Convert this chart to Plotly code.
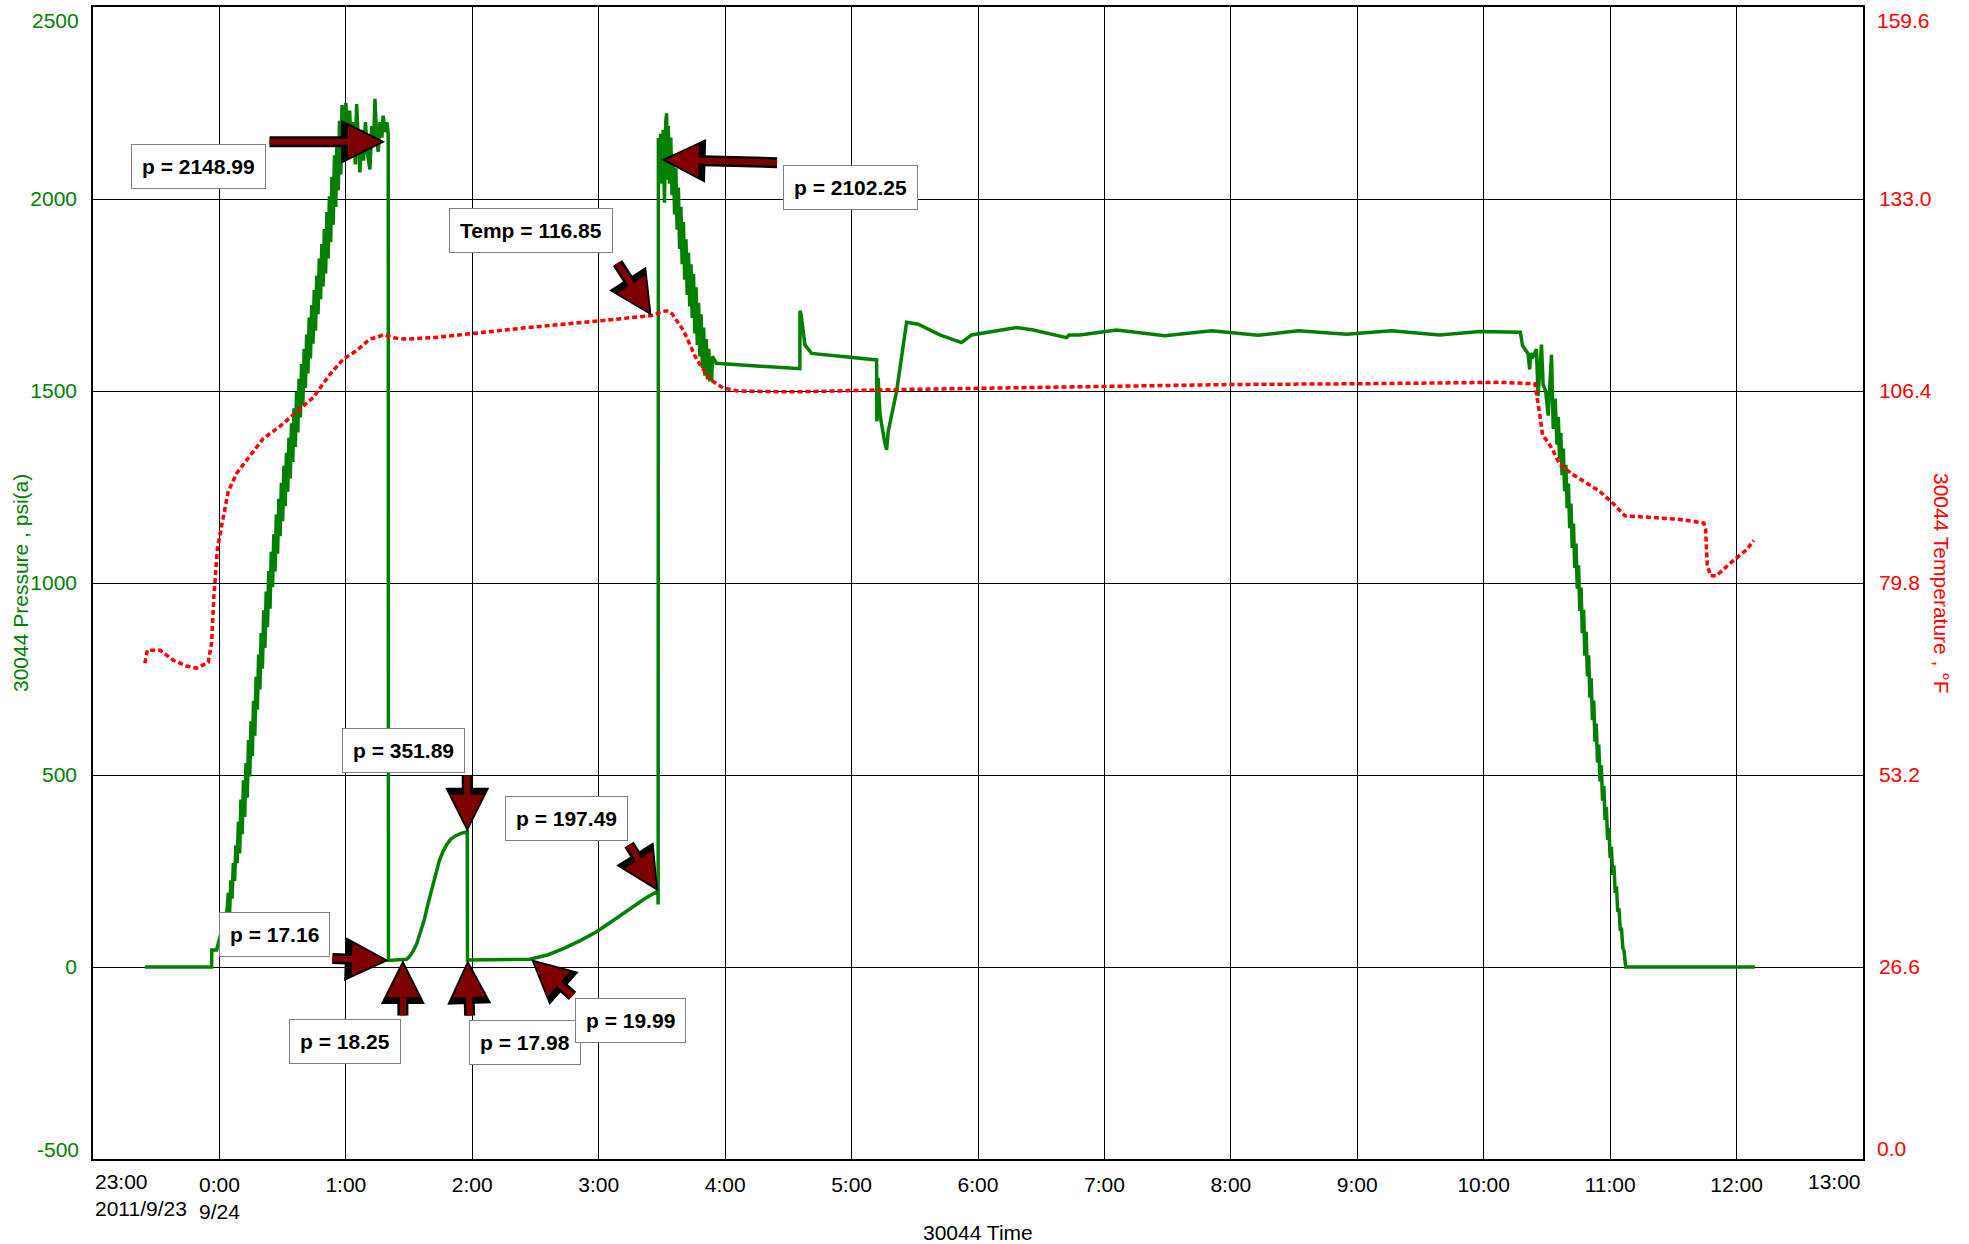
import pandas as pd
import plotly.graph_objects as go

BASE = pd.Timestamp("2011-09-23 23:00")

# ---- Pressure series (hours after 2011-09-23 23:00, psi(a)) ----
p_hours = [
    0.41, 0.938, 0.940, 0.977, 0.99, 1.02, 1.057,
    # first pressure-up (noisy ramp)
    1.06, 1.07, 1.08, 1.09, 1.10, 1.11, 1.12, 1.13, 1.14, 1.15, 1.16, 1.17, 1.18,
    1.19, 1.20, 1.21, 1.22, 1.23, 1.24, 1.25, 1.26, 1.27, 1.28, 1.29, 1.30, 1.31,
    1.32, 1.33, 1.34, 1.35, 1.36, 1.37, 1.38, 1.39, 1.40, 1.41, 1.42, 1.43, 1.44,
    1.45, 1.46, 1.47, 1.48, 1.49, 1.50, 1.51, 1.52, 1.53, 1.54, 1.55, 1.56, 1.57,
    1.58, 1.59, 1.60, 1.61, 1.62, 1.63, 1.64, 1.65, 1.66, 1.67, 1.68, 1.69, 1.70,
    1.71, 1.72, 1.73, 1.74, 1.75, 1.76, 1.77, 1.78, 1.79, 1.80, 1.81, 1.82, 1.83,
    1.84, 1.85, 1.86, 1.87, 1.88, 1.89, 1.90, 1.91, 1.92, 1.93, 1.94, 1.95, 1.96,
    1.97, 1.98,
    # plateau
    2.00, 2.015, 2.03, 2.045, 2.06, 2.075, 2.085, 2.10, 2.111, 2.125, 2.14, 2.155,
    2.17, 2.19, 2.205, 2.22, 2.23, 2.245, 2.256, 2.27, 2.285, 2.295, 2.31, 2.325, 2.335,
    # bleed-off and build-ups
    2.337, 2.454, 2.48, 2.50, 2.53, 2.56, 2.59, 2.62, 2.65, 2.68, 2.71, 2.74, 2.77,
    2.80, 2.83, 2.87, 2.91, 2.96, 2.962, 3.0, 3.20, 3.456,
    3.60, 3.72, 3.85, 3.983, 4.10, 4.247, 4.36, 4.468, 4.47,
    # second pressure-up and noisy decline
    4.472, 4.48, 4.49, 4.50, 4.51, 4.52, 4.53, 4.537, 4.545, 4.55, 4.56, 4.57, 4.58,
    4.59, 4.60, 4.61, 4.62, 4.63, 4.64, 4.65, 4.66, 4.67, 4.68, 4.69, 4.70, 4.71,
    4.72, 4.73, 4.74, 4.75, 4.76, 4.77, 4.78, 4.79, 4.80, 4.81, 4.82, 4.83, 4.84,
    4.85, 4.86, 4.87, 4.88, 4.89, 4.893, 4.90, 4.93,
    # long hold
    5.591, 5.592, 5.60, 5.631, 5.684, 6.198, 6.200, 6.21, 6.225, 6.26, 6.277, 6.29,
    6.356, 6.435, 6.527, 6.698, 6.87, 6.949, 7.094, 7.305, 7.437, 7.674, 7.70, 7.72,
    7.806, 8.096, 8.478, 8.847, 9.216, 9.533, 9.915, 10.27, 10.65, 10.97, 11.29,
    11.307, 11.35, 11.364, 11.37, 11.39, 11.417, 11.43, 11.457, 11.47, 11.49, 11.51,
    11.536, 11.55, 11.565,
    # final bleed-down
    11.58, 11.59, 11.60, 11.61, 11.62, 11.63, 11.64, 11.65, 11.66, 11.67, 11.68,
    11.69, 11.70, 11.71, 11.72, 11.73, 11.74, 11.75, 11.76, 11.77, 11.78, 11.79,
    11.80, 11.81, 11.82, 11.83, 11.84, 11.85, 11.86, 11.87, 11.88, 11.89, 11.90,
    11.91, 11.92, 11.93, 11.94, 11.95, 11.96, 11.97, 11.98, 11.99, 12.00, 12.01,
    12.02, 12.03, 12.04, 12.05, 12.06, 12.07, 12.08, 12.09, 12.10, 12.11, 12.123,
    13.145,
]
p_psi = [
    0, 0, 44, 44, 60, 100, 143,
    147, 193, 135, 226, 178, 271, 224, 317, 270, 378, 296, 436, 346,
    486, 391, 531, 441, 591, 496, 640, 549, 693, 602, 756, 670, 814,
    723, 870, 777, 929, 831, 978, 885, 1031, 933, 1081, 989, 1127, 1030,
    1178, 1076, 1219, 1122, 1261, 1161, 1305, 1200, 1339, 1238, 1378, 1272, 1416,
    1315, 1455, 1354, 1498, 1392, 1532, 1431, 1570, 1464, 1609, 1508, 1647, 1546,
    1691, 1585, 1724, 1623, 1763, 1657, 1801, 1700, 1845, 1739, 1883, 1772, 1922,
    1806, 1966, 1845, 2007, 1888, 2058, 1933, 2114, 1979, 2161, 2023, 2204, 2064,
    2245, 2110,
    2250, 2150, 2230, 2110, 2200, 2090, 2247, 2140, 2069, 2180, 2100, 2200,
    2120, 2077, 2190, 2140, 2261, 2150, 2123, 2200, 2160, 2217, 2175, 2200, 2168,
    17.2, 18.25, 20, 26, 40, 60, 88, 122, 165, 205, 245, 278, 302,
    320, 333, 342, 348, 352, 18, 18, 19, 20,
    32, 48, 68, 92, 118, 152, 177, 198, 163,
    2159, 2060, 2170, 2040, 2180, 1990, 2200, 2223, 2050, 2190, 2040, 2160, 2010,
    2107, 1960, 2080, 1920, 2030, 1870, 1980, 1830, 1940, 1790, 1895, 1750, 1860,
    1720, 1830, 1690, 1805, 1650, 1770, 1620, 1730, 1590, 1700, 1560, 1665, 1540,
    1635, 1530, 1610, 1525, 1590, 1525, 1590, 1572,
    1558, 1709, 1700, 1620, 1598, 1581, 1421, 1534, 1438, 1370, 1347, 1395,
    1499, 1679, 1674, 1646, 1626, 1646, 1653, 1665, 1659, 1639, 1639, 1646,
    1646, 1659, 1644, 1657, 1645, 1657, 1648, 1657, 1646, 1655, 1653,
    1618, 1598, 1556, 1598, 1590, 1609, 1487, 1621, 1516, 1500, 1436,
    1594, 1401, 1480,
    1360, 1433, 1322, 1391, 1281, 1350, 1239, 1308, 1195, 1259, 1143,
    1207, 1091, 1155, 1039, 1103, 985, 1046, 927, 988, 869, 930,
    811, 873, 757, 812, 701, 752, 643, 694, 587, 634, 533,
    579, 483, 525, 433, 471, 383, 417, 331, 362, 284, 313,
    240, 264, 193, 210, 144, 153, 98, 98, 50, 42, 0,
    0,
]

# ---- Temperature series (hours after 23:00, degF) ----
t_hours = [
    0.41, 0.43, 0.53, 0.634, 0.74, 0.82, 0.911, 0.938, 0.956, 0.983, 1.017, 1.07,
    1.136, 1.241, 1.346, 1.478, 1.61, 1.742, 1.874, 1.979, 2.085, 2.19, 2.24, 2.296,
    2.40, 2.48, 2.70, 3.0, 3.5, 4.0, 4.418, 4.50, 4.537, 4.58, 4.67, 4.774, 4.88,
    4.985, 5.1, 5.433, 5.59, 6.36, 7.17, 8.12, 9.0, 10.0, 11.128, 11.405, 11.423,
    11.445, 11.465, 11.51, 11.55, 11.602, 11.708, 11.813, 11.918, 12.024, 12.117,
    12.314, 12.552, 12.742, 12.755, 12.768, 12.794, 12.84, 12.973, 13.079, 13.136,
]
t_degF = [
    68.7, 70.5, 70.5, 69.1, 68.3, 68.0, 68.8, 71.5, 78.0, 84.4, 87.7, 92.5,
    95.0, 97.4, 99.8, 101.5, 103.5, 105.5, 108.7, 110.8, 112.0, 113.6, 113.8, 114.2,
    113.7, 113.6, 113.8, 114.4, 115.3, 116.1, 116.85, 117.4, 117.5, 117.1, 114.8, 110.8, 108.0,
    106.8, 106.4, 106.3, 106.3, 106.6, 106.8, 107.1, 107.3, 107.4, 107.6, 107.4, 105.7,
    103.0, 100.3, 99.3, 98.1, 96.2, 94.8, 93.6, 92.5, 90.8, 89.1,
    88.9, 88.6, 88.1, 87.2, 82.3, 80.8, 80.8, 82.9, 84.4, 85.7,
]

# ---- Axis ticks ----
x_tick_hours = list(range(1, 14))
x_tick_text = ["0:00<br>9/24", "1:00", "2:00", "3:00", "4:00", "5:00", "6:00",
               "7:00", "8:00", "9:00", "10:00", "11:00", "12:00"]
p_ticks = [-500, 0, 500, 1000, 1500, 2000, 2500]
p_tick_text = ["", "0", "500", "1000", "1500", "2000", ""]
t_ticks = [0.0, 26.6, 53.2, 79.8, 106.4, 133.0, 159.6]
t_tick_text = ["", "26.6", "53.2", "79.8", "106.4", "133.0", ""]

# ---- Callout labels (box centre in hours / psi) ----
box_text = ["p = 2148.99", "p = 2102.25", "Temp = 116.85", "p = 351.89", "p = 197.49",
            "p = 17.16", "p = 18.25", "p = 17.98", "p = 19.99"]
box_hours = [0.838, 5.995, 3.462, 2.459, 3.743, 1.435, 1.995, 3.416, 4.251]
box_psi = [2084, 2029, 1917, 563, 388, 84, -195, -196, -139]

# ---- Callout arrows (tip in data, tail offset in pixels) ----
arrow_hours = [2.31, 4.497, 4.418, 2.96, 4.47, 2.34, 2.451, 2.964, 3.465]
arrow_value = [2149, 2102.25, 116.85, 351.89, 197.49, 17.16, 18.25, 17.98, 19.99]
arrow_axis = ["y", "y", "y2", "y", "y", "y", "y", "y", "y"]
arrow_ax = [-117, 117, -35, 0, -30, -58, 0, 2, 43]
arrow_ay = [0, 3, -54, -58, -48, -2, 57, 57, 38]


def to_time(hours):
    return [BASE + pd.Timedelta(hours=h) for h in hours]


FONT = "Liberation Sans, Arial, sans-serif"
GREEN = "#008000"
RED = "#FF0000"

fig = go.Figure()
fig.add_trace(go.Scatter(x=to_time(p_hours), y=p_psi, mode="lines",
                         line=dict(color=GREEN, width=3.5), name="Pressure",
                         yaxis="y"))
fig.add_trace(go.Scatter(x=to_time(t_hours), y=t_degF, mode="lines",
                         line=dict(color=RED, width=3.5, dash="5px,3px"),
                         name="Temperature", yaxis="y2"))

ann = []
for h, v, axn, ax, ay in zip(arrow_hours, arrow_value, arrow_axis, arrow_ax, arrow_ay):
    x = BASE + pd.Timedelta(hours=h)
    ann.append(dict(x=x, y=v, xref="x", yref=axn, text="", showarrow=True,
                    ax=ax, ay=ay, axref="pixel", ayref="pixel",
                    arrowcolor="black", arrowwidth=11, arrowhead=2, arrowsize=0.8))
    ann.append(dict(x=x, y=v, xref="x", yref=axn, text="", showarrow=True,
                    ax=ax, ay=ay, axref="pixel", ayref="pixel", standoff=4,
                    arrowcolor="#7F0000", arrowwidth=6, arrowhead=2, arrowsize=1.1))
for txt, h, v in zip(box_text, box_hours, box_psi):
    ann.append(dict(x=BASE + pd.Timedelta(hours=h), y=v, xref="x", yref="y",
                    text="<b>" + txt + "</b>", showarrow=False,
                    font=dict(family=FONT, size=21, color="black"),
                    bgcolor="white", bordercolor="#808080", borderwidth=1,
                    borderpad=10, xanchor="center", yanchor="middle"))

# end tick labels kept inside the frame, and axis titles
ann += [
    dict(x=0, y=1, xref="paper", yref="paper", text="2500", showarrow=False,
         xanchor="right", yanchor="middle", xshift=-12, yshift=-13,
         font=dict(family=FONT, size=21, color=GREEN)),
    dict(x=0, y=0, xref="paper", yref="paper", text="-500", showarrow=False,
         xanchor="right", yanchor="middle", xshift=-12, yshift=10,
         font=dict(family=FONT, size=21, color=GREEN)),
    dict(x=1, y=1, xref="paper", yref="paper", text="159.6", showarrow=False,
         xanchor="left", yanchor="middle", xshift=12, yshift=-13,
         font=dict(family=FONT, size=21, color=RED)),
    dict(x=1, y=0, xref="paper", yref="paper", text="0.0", showarrow=False,
         xanchor="left", yanchor="middle", xshift=12, yshift=11,
         font=dict(family=FONT, size=21, color=RED)),
    dict(x=0, y=0, xref="paper", yref="paper", text="23:00<br>2011/9/23",
         showarrow=False, xanchor="left", yanchor="top", align="left", yshift=-9,
         font=dict(family=FONT, size=21, color="black")),
    dict(x=1, y=0, xref="paper", yref="paper", text="13:00",
         showarrow=False, xanchor="right", yanchor="top", align="right", yshift=-9,
         font=dict(family=FONT, size=21, color="black")),
    dict(x=0.5, y=0, xref="paper", yref="paper", text="30044 Time",
         showarrow=False, xanchor="center", yanchor="middle", yshift=-73,
         font=dict(family=FONT, size=21, color="black")),
    dict(x=0, y=0.5, xref="paper", yref="paper", text="30044 Pressure , psi(a)",
         showarrow=False, xanchor="center", yanchor="middle", xshift=-73,
         textangle=-90, font=dict(family=FONT, size=21, color=GREEN)),
    dict(x=1, y=0.5, xref="paper", yref="paper", text="30044 Temperature , °F",
         showarrow=False, xanchor="center", yanchor="middle", xshift=79,
         textangle=90, font=dict(family=FONT, size=21, color=RED)),
]

fig.update_layout(
    width=1969, height=1244,
    margin=dict(l=93, r=106, t=5, b=85),
    paper_bgcolor="white", plot_bgcolor="white",
    showlegend=False,
    font=dict(family=FONT, size=21, color="black"),
    xaxis=dict(type="date",
               range=[BASE, BASE + pd.Timedelta(hours=14)],
               tickvals=to_time(x_tick_hours), ticktext=x_tick_text,
               showgrid=True, gridcolor="black", gridwidth=1,
               showline=True, linecolor="black", linewidth=1.5, mirror=True,
               ticks="outside", ticklen=6, tickcolor="rgba(0,0,0,0)",
               tickfont=dict(family=FONT, size=21, color="black"),
               zeroline=False),
    yaxis=dict(range=[-500, 2500], tickvals=p_ticks, ticktext=p_tick_text,
               showgrid=True, gridcolor="black", gridwidth=1,
               showline=True, linecolor="black", linewidth=1.5, mirror=True,
               ticks="outside", ticklen=10, tickcolor="rgba(0,0,0,0)",
               tickfont=dict(family=FONT, size=21, color=GREEN),
               zeroline=False),
    yaxis2=dict(range=[0, 159.6], tickvals=t_ticks, ticktext=t_tick_text,
                overlaying="y", side="right", showgrid=False,
                showline=True, linecolor="black", linewidth=1.5,
                ticks="outside", ticklen=10, tickcolor="rgba(0,0,0,0)",
                tickfont=dict(family=FONT, size=21, color=RED),
                zeroline=False),
    annotations=ann,
)

fig.write_html("out.html", config={"displayModeBar": False},
               post_script="document.body.style.margin='0';document.body.style.padding='0';")
